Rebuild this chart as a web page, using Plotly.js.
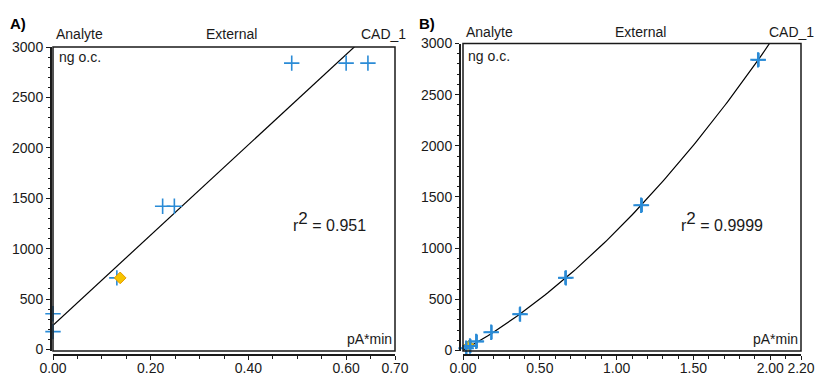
<!DOCTYPE html>
<html>
<head>
<meta charset="utf-8">
<script src="https://cdn.plot.ly/plotly-3.0.1.min.js"></script>
<style>html,body{margin:0;padding:0;background:#fff}#chart{width:826px;height:375px}</style>
</head>
<body>
<div id="chart"></div>
<script>
// ---------- Data ----------
// Panel A: external calibration, linear fit
const aCalX = [0.000, 0.000, 0.1307, 0.2244, 0.2484, 0.4886, 0.600, 0.6446];
const aCalY = [177.5, 355, 710, 1420, 1420, 2840, 2840, 2840];
const aSampleX = [0.1375];
const aSampleY = [710];
const aFitCoef = [240, 4476];           // intercept, slope
const aR2 = "0.951";

// Panel B: external calibration, quadratic fit
const bCalX = [0.020, 0.045, 0.085, 0.183, 0.372, 0.670, 1.159, 1.920];
const bCalY = [22, 44, 89, 177.5, 355, 710, 1420, 2840];
const bCalX2 = [0.024, 0.050, 0.092, 0.188, 0.368, 0.664, 1.166, 1.926];
const bSampleX = [0.039];
const bSampleY = [50];
const bFitCoef = [0, 837, 333.5];       // c0, c1, c2
const bR2 = "0.9999";

const aTickVals = [0, 0.2, 0.4, 0.6, 0.7];
const aTickText = ["0.00", "0.20", "0.40", "0.60", "0.70"];
const bTickVals = [0, 0.5, 1.0, 1.5, 2.0, 2.2];
const bTickText = ["0.00", "0.50", "1.00", "1.50", "2.00", "2.20"];
const yTickVals = [0, 500, 1000, 1500, 2000, 2500, 3000];

// ---------- Helpers ----------
const W = 826, H = 375;
const fx = p => p / W;
const fy = p => 1 - p / H;
function sample(lo, hi, n, f) {
  const xs = [], ys = [];
  for (let i = 0; i <= n; i++) { const x = lo + (hi - lo) * i / n; xs.push(x); ys.push(f(x)); }
  return [xs, ys];
}
const [aFitX, aFitY] = sample(0, 0.7, 2, x => aFitCoef[0] + aFitCoef[1] * x);
const [bFitX, bFitY] = sample(0, 2.2, 120, x => bFitCoef[0] + bFitCoef[1] * x + bFitCoef[2] * x * x);

const FONT = "'Liberation Sans', Arial, sans-serif";
const FS = 14;
const BLUE = "#2a8bd6";
const INK = "#1a1a1a";

// Panel pixel geometry
const A = {l: 53, r: 395, t: 47, b: 351, yl: 50, xb: 354};
const B = {l: 463, r: 801, t: 43.5, b: 351, yl: 459, xb: 354};

const traces = [
  {x: aFitX, y: aFitY, mode: 'lines', line: {color: '#000', width: 1.2}, xaxis: 'x', yaxis: 'y', hoverinfo: 'skip'},
  {x: aCalX, y: aCalY, mode: 'markers', marker: {symbol: 'cross-thin-open', size: 11, color: BLUE, line: {color: BLUE, width: 1.6}}, xaxis: 'x', yaxis: 'y', cliponaxis: false},
  {x: aSampleX, y: aSampleY, mode: 'markers', marker: {symbol: 'diamond', size: 9, color: '#f6c400', line: {color: '#e59a00', width: 1}}, xaxis: 'x', yaxis: 'y'},
  {x: bFitX, y: bFitY, mode: 'lines', line: {color: '#000', width: 1.2}, xaxis: 'x2', yaxis: 'y2', hoverinfo: 'skip'},
  {x: bSampleX, y: bSampleY, mode: 'markers', marker: {symbol: 'diamond', size: 8, color: '#f6c400', line: {color: '#c99a00', width: 1}}, xaxis: 'x2', yaxis: 'y2'},
  {x: bCalX, y: bCalY, mode: 'markers', marker: {symbol: 'cross-thin-open', size: 11, color: BLUE, line: {color: BLUE, width: 2}}, xaxis: 'x2', yaxis: 'y2', cliponaxis: false},
  {x: bCalX2, y: bCalY, mode: 'markers', marker: {symbol: 'cross-thin-open', size: 10, color: BLUE, line: {color: BLUE, width: 1.6}}, xaxis: 'x2', yaxis: 'y2', cliponaxis: false}
];

function xAxis(P, range, vals, text, minorDt) {
  return {
    domain: [fx(P.l), fx(P.r)], range: range, anchor: 'free', position: fy(P.xb),
    showline: true, linecolor: INK, linewidth: 1.5, showgrid: false, zeroline: false,
    ticks: 'outside', ticklen: 4, tickwidth: 1, tickcolor: INK, ticklabelstandoff: -3,
    tickvals: vals, ticktext: text,
    minor: {dtick: minorDt, ticks: 'outside', ticklen: 3, tickcolor: INK, showgrid: false},
    tickfont: {family: FONT, size: FS, color: INK}, fixedrange: true
  };
}
function yAxis(P, range) {
  return {
    domain: [fy(P.b), fy(P.t)], range: range, anchor: 'free', position: fx(P.yl),
    showline: true, linecolor: INK, linewidth: 1.5, showgrid: false, zeroline: false,
    ticks: 'outside', ticklen: 4, tickwidth: 1, tickcolor: INK,
    tickvals: yTickVals, ticktext: yTickVals.map(String),
    minor: {dtick: 100, ticks: 'outside', ticklen: 2.5, tickcolor: INK, showgrid: false},
    tickfont: {family: FONT, size: FS, color: INK}, fixedrange: true
  };
}

function ann(text, px, py, xanchor, extra) {
  return Object.assign({text: text, xref: 'paper', yref: 'paper', x: fx(px), y: fy(py),
    xanchor: xanchor, yanchor: 'middle', showarrow: false,
    font: {family: FONT, size: FS, color: INK}}, extra || {});
}
const R2 = v => "r<sup><span style='font-size:17px'>2</span></sup> = " + v;
const R2FONT = {font: {family: FONT, size: 16, color: INK}};

const annotations = [
  ann('<b>A)</b>', 8, 23, 'left', {font: {family: FONT, size: 15, color: '#000'}}),
  ann('Analyte', 54, 34, 'left'),
  ann('External', 231.5, 34, 'center'),
  ann('CAD_1', 408, 34, 'right'),
  ann('ng o.c.', 57, 57, 'left'),
  ann('pA*min', 394, 339, 'right'),
  ann(R2(aR2), 291, 221, 'left', R2FONT),

  ann('<b>B)</b>', 417, 23, 'left', {font: {family: FONT, size: 15, color: '#000'}}),
  ann('Analyte', 464, 32, 'left'),
  ann('External', 640, 32, 'center'),
  ann('CAD_1', 816, 32, 'right'),
  ann('ng o.c.', 466, 56, 'left'),
  ann('pA*min', 800, 339, 'right'),
  ann(R2(bR2), 679, 221, 'left', R2FONT)
];

const shapes = [
  {type: 'rect', xref: 'paper', yref: 'paper', x0: fx(A.l), x1: fx(A.r), y0: fy(A.b), y1: fy(A.t), line: {color: INK, width: 1.5}},
  {type: 'rect', xref: 'paper', yref: 'paper', x0: fx(B.l), x1: fx(B.r), y0: fy(B.b), y1: fy(B.t), line: {color: INK, width: 1.5}}
];

const layout = {
  width: W, height: H, margin: {l: 0, r: 0, t: 0, b: 0},
  paper_bgcolor: '#fff', plot_bgcolor: 'rgba(0,0,0,0)', showlegend: false,
  xaxis: xAxis(A, [0, 0.7], aTickVals, aTickText, 0.05),
  yaxis: yAxis(A, [-15, 3000]),
  xaxis2: xAxis(B, [0, 2.2], bTickVals, bTickText, 0.1),
  yaxis2: yAxis(B, [-5, 3000]),
  annotations: annotations, shapes: shapes
};

Plotly.newPlot('chart', traces, layout, {staticPlot: true, displayModeBar: false});
</script>
</body>
</html>
